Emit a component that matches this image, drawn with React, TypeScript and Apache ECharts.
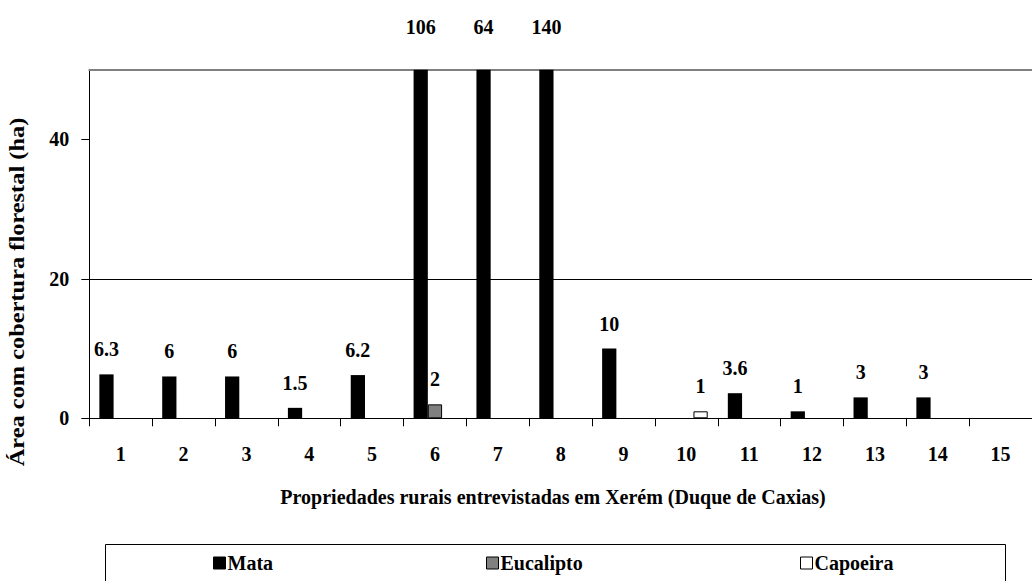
import React, { useEffect, useRef } from "react";
import * as echarts from "echarts";

const categories = ["1", "2", "3", "4", "5", "6", "7", "8", "9", "10", "11", "12", "13", "14", "15"];
const mata = [6.3, 6, 6, 1.5, 6.2, 106, 64, 140, 10, null, 3.6, 1, 3, 3, null];
const eucalipto = [null, null, null, null, null, 2, null, null, null, null, null, null, null, null, null];
const capoeira = [null, null, null, null, null, null, null, null, null, 1, null, null, null, null, null];
const yTickValues = [0, 20, 40];
const yMax = 50;
const seriesNames = ["Mata", "Eucalipto", "Capoeira"];
const yTitle = "Área com cobertura florestal (ha)";
const xTitle = "Propriedades rurais entrevistadas em Xerém (Duque de Caxias)";

const FONT = "Liberation Serif";

function withClipLabels(arr: (number | null)[]) {
  return arr.map((v) =>
    v != null && v > yMax ? { value: v, label: { distance: 33 } } : v
  );
}

export default function App() {
  const ref = useRef<HTMLDivElement>(null);
  useEffect(() => {
    if (!ref.current) return;
    const chart = echarts.init(ref.current, undefined, { renderer: "svg" });
    const labelStyle = {
      show: true,
      position: "top",
      distance: 15,
      fontFamily: FONT,
      fontWeight: "bold",
      fontSize: 20,
      color: "#000",
    };
    const legendCommon = {
      top: 548,
      itemWidth: 12,
      itemHeight: 12,
      icon: "rect",
      textStyle: { fontFamily: FONT, fontWeight: "bold", fontSize: 20, color: "#000", padding: [0, 0, 0, -3] },
      itemStyle: { borderColor: "#000", borderWidth: 1 },
      selectedMode: false,
    };
    chart.setOption({
      animation: false,
      backgroundColor: "#fff",
      textStyle: { fontFamily: FONT },
      grid: { left: 89.3, top: 69.7, width: 957.8, height: 348.6, containLabel: false },
      xAxis: [
        {
          type: "category",
          data: categories,
          position: "bottom",
          axisLine: { show: true, lineStyle: { color: "#000", width: 1 } },
          axisTick: { show: true, alignWithLabel: false, length: 8, interval: 0, lineStyle: { color: "#000" } },
          axisLabel: { margin: 26, interval: 0, fontFamily: FONT, fontWeight: "bold", fontSize: 20, color: "#000" },
          splitLine: { show: false },
        },
        {
          type: "category",
          data: categories,
          position: "top",
          axisLine: { show: true, lineStyle: { color: "#808080", width: 2 } },
          axisTick: { show: false },
          axisLabel: { show: false },
          splitLine: { show: false },
        },
      ],
      yAxis: {
        type: "value",
        min: 0,
        max: yMax,
        interval: 20,
        axisLine: { show: true, lineStyle: { color: "#000", width: 1 } },
        axisTick: { show: true, length: 8, customValues: yTickValues, lineStyle: { color: "#000" } },
        axisLabel: {
          margin: 20,
          customValues: yTickValues,
          fontFamily: FONT,
          fontWeight: "bold",
          fontSize: 20,
          color: "#000",
        },
        splitLine: { show: true, showMaxLine: false, lineStyle: { color: "#000", width: 1 } },
      },
      legend: seriesNames.map((n, i) => ({
        ...legendCommon,
        left: [208, 481, 795][i],
        data: [n],
      })),
      graphic: [
        {
          type: "rect",
          shape: { x: 105.5, y: 544.5, width: 900, height: 60 },
          style: { fill: "none", stroke: "#000", lineWidth: 1 },
          z: 0,
        },
        {
          type: "text",
          x: 17,
          y: 292,
          rotation: Math.PI / 2,
          scaleX: 1.22,
          style: {
            text: yTitle,
            align: "center",
            verticalAlign: "middle",
            fontFamily: FONT,
            fontWeight: "bold",
            fontSize: 20,
            fill: "#000",
          },
        },
        {
          type: "text",
          x: 553,
          y: 497,
          style: {
            text: xTitle,
            align: "center",
            verticalAlign: "middle",
            fontFamily: FONT,
            fontWeight: "bold",
            fontSize: 20,
            fill: "#000",
          },
        },
      ],
      series: [
        {
          name: seriesNames[0],
          type: "bar",
          data: withClipLabels(mata),
          barGap: "0%",
          barCategoryGap: "32%",
          itemStyle: { color: "#000", borderColor: "#000", borderWidth: 0 },
          label: labelStyle,
        },
        {
          name: seriesNames[1],
          type: "bar",
          data: withClipLabels(eucalipto),
          barGap: "0%",
          barCategoryGap: "32%",
          itemStyle: { color: "#808080", borderColor: "#000", borderWidth: 1 },
          label: labelStyle,
        },
        {
          name: seriesNames[2],
          type: "bar",
          data: withClipLabels(capoeira),
          barGap: "0%",
          barCategoryGap: "32%",
          itemStyle: { color: "#fff", borderColor: "#000", borderWidth: 1 },
          label: labelStyle,
        },
      ],
    });
    return () => chart.dispose();
  }, []);
  return (
    <div
      ref={ref}
      style={{ position: "absolute", left: 0, top: 0, width: 1032, height: 581 }}
    />
  );
}
